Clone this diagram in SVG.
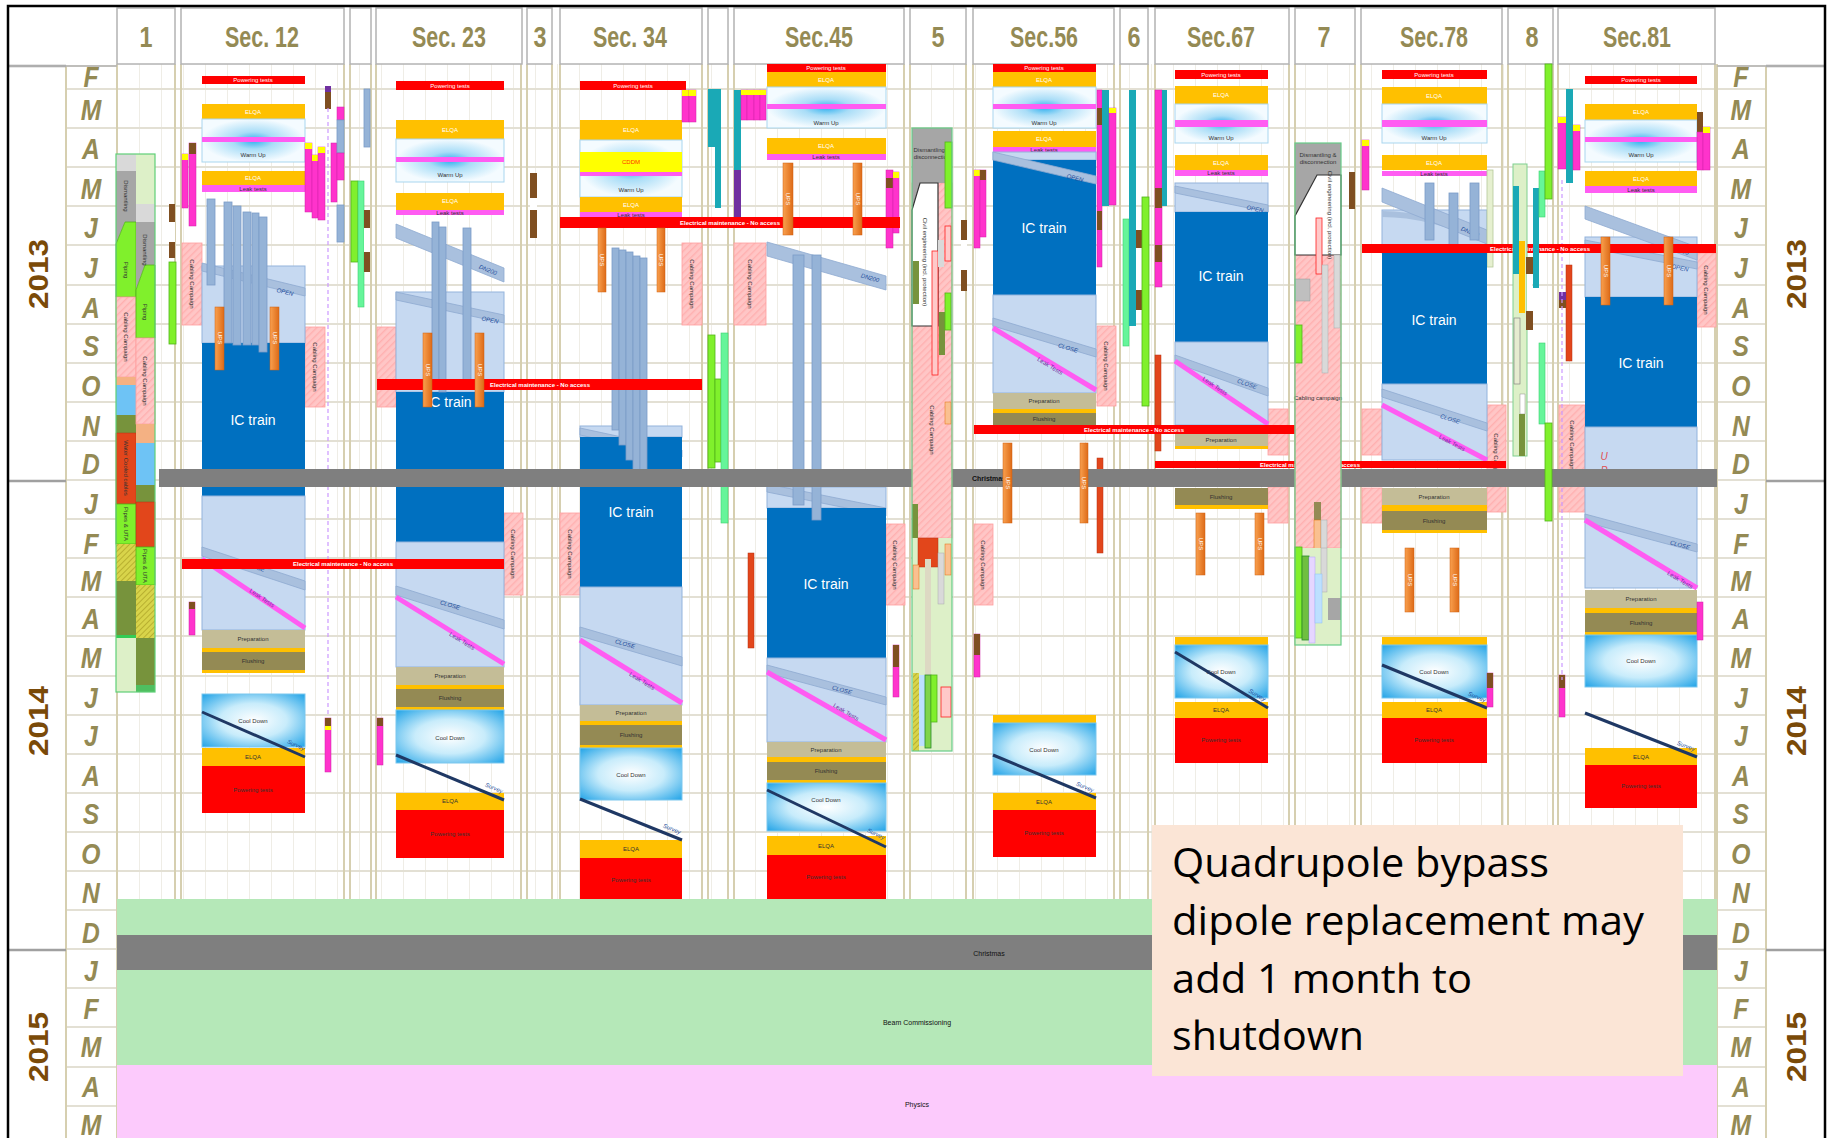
<svg xmlns="http://www.w3.org/2000/svg" width="1829" height="1138" viewBox="0 0 1829 1138">
<defs>
<style>
.pt{fill:#ff0000}.el{fill:#ffc000}.wu{fill:url(#gWU);stroke:#a9d6ef;stroke-width:1}
.mg{fill:#ff5cf2}.ic{fill:#0070c0}.lb{fill:#c6d9f1;stroke:#93b3dc;stroke-width:1}
.pr{fill:#c4bd97}.fl{fill:#948a54}.cd{fill:url(#gCD);stroke:#7cc7ee;stroke-width:1}
.cab{fill:url(#hatch);stroke:#ff9f9f;stroke-width:.8}.ups{fill:url(#gUPS);stroke:#d06010;stroke-width:.5}
.vb{fill:#95b3d7;stroke:#7b9cc7;stroke-width:.8}.db{fill:#a9c0de;stroke:#8eaad0;stroke-width:.8}
.mb{fill:#ff33cc;stroke:#d020a8;stroke-width:.5}.tl{fill:#1aa9b6}.br{fill:#7f4f21}.gr{fill:#80f02c;stroke:#52b41a;stroke-width:.8}
.lg{fill:#66f59a;stroke:#3fcf70;stroke-width:.6}.ol{fill:#77933c}.ow{fill:#e2461b;stroke:#b83010;stroke-width:.5}.ye{fill:#ffff00}
.gy{fill:#a6a6a6}.wh{fill:#ffffff}.pu{fill:#7030a0}
.lkl{stroke:#ff5cf2;stroke-width:5}.sv{stroke:#1f3864;stroke-width:3}
.s{font-family:"Liberation Sans Narrow","Liberation Sans",sans-serif;font-size:6px;text-anchor:middle;dominant-baseline:central}
.w{fill:#ffffff}.k{fill:#333333}.bl{fill:#1f4e9c;font-style:italic}.pk{fill:#7030a0}
.ict{font-family:"Liberation Sans Narrow","Liberation Sans",sans-serif;font-size:14px;fill:#ffffff;text-anchor:middle;dominant-baseline:central}
.hd{font-family:"Liberation Sans Narrow","Liberation Sans",sans-serif;font-weight:bold;font-size:30px;fill:#948a54;text-anchor:middle}
.mo{font-family:"Liberation Sans",sans-serif;font-weight:bold;font-style:italic;font-size:29px;fill:#948a54;text-anchor:middle}
.yr{font-family:"Liberation Sans",sans-serif;font-weight:bold;font-size:28px;fill:#7a4a08;text-anchor:middle}
.hbox{fill:#ffffff;stroke:#b3b3b3;stroke-width:1.5}
.hl{stroke:#e3e0d4;stroke-width:2}.vl{stroke:#d6cfb0;stroke-width:2}
.eb{fill:#ff0000}.et{font-family:"Liberation Sans Narrow","Liberation Sans",sans-serif;font-size:6px;font-weight:bold;fill:#ffffff;text-anchor:middle;dominant-baseline:central}
.note{font-family:"Open Sans","Noto Sans",sans-serif;font-size:41px;fill:#000000}
.bt{font-family:"Liberation Sans Narrow","Liberation Sans",sans-serif;font-size:7px;fill:#111111;text-anchor:middle;dominant-baseline:central}
</style>
<radialGradient id="gWU" cx="50%" cy="50%" r="50%"><stop offset="0" stop-color="#2fb0ee"/><stop offset=".4" stop-color="#a9ddf7"/><stop offset="1" stop-color="#f4fbff"/></radialGradient>
<radialGradient id="gCD" cx="50%" cy="50%" r="72%"><stop offset="0" stop-color="#ffffff"/><stop offset=".45" stop-color="#c8ecfb"/><stop offset="1" stop-color="#1aa0e6"/></radialGradient>
<linearGradient id="gUPS" x1="0" x2="1" y1="0" y2="0"><stop offset="0" stop-color="#f9a04e"/><stop offset="1" stop-color="#dd6b18"/></linearGradient>
<pattern id="hatch" patternUnits="userSpaceOnUse" width="5" height="5" patternTransform="rotate(45)"><rect width="5" height="5" fill="#ffc6c6"/><rect width="1.4" height="5" fill="#ffb0b0"/></pattern>
<pattern id="yhatch" patternUnits="userSpaceOnUse" width="4" height="4" patternTransform="rotate(45)"><rect width="4" height="4" fill="#d8d44a"/><rect width="1" height="4" fill="#b8b030"/></pattern>
<pattern id="fine" patternUnits="userSpaceOnUse" width="22" height="10" x="117"><rect width="22" height="10" fill="#ffffff"/><rect width="1" height="10" fill="#efede6"/></pattern>
</defs>

<rect x="0" y="0" width="1829" height="1138" fill="#ffffff"/>

<g id="grid">
<rect x="117" y="64" width="1600" height="835" fill="url(#fine)"/>
<g class="hl">
<line x1="66" y1="66" x2="117" y2="66"/><line x1="1717" y1="66" x2="1766" y2="66"/>
<line x1="66" y1="89" x2="1766" y2="89"/><line x1="66" y1="128" x2="1766" y2="128"/><line x1="66" y1="167" x2="1766" y2="167"/>
<line x1="66" y1="206" x2="1766" y2="206"/><line x1="66" y1="245" x2="1766" y2="245"/><line x1="66" y1="285" x2="1766" y2="285"/>
<line x1="66" y1="324" x2="1766" y2="324"/><line x1="66" y1="363" x2="1766" y2="363"/><line x1="66" y1="402" x2="1766" y2="402"/>
<line x1="66" y1="441" x2="1766" y2="441"/><line x1="66" y1="480" x2="1766" y2="480"/><line x1="66" y1="519" x2="1766" y2="519"/>
<line x1="66" y1="558" x2="1766" y2="558"/><line x1="66" y1="597" x2="1766" y2="597"/><line x1="66" y1="636" x2="1766" y2="636"/>
<line x1="66" y1="676" x2="1766" y2="676"/><line x1="66" y1="715" x2="1766" y2="715"/><line x1="66" y1="754" x2="1766" y2="754"/>
<line x1="66" y1="793" x2="1766" y2="793"/><line x1="66" y1="832" x2="1766" y2="832"/><line x1="66" y1="871" x2="1766" y2="871"/>
<line x1="66" y1="910" x2="1766" y2="910"/><line x1="66" y1="949" x2="1766" y2="949"/><line x1="66" y1="988" x2="1766" y2="988"/>
<line x1="66" y1="1027" x2="1766" y2="1027"/><line x1="66" y1="1067" x2="1766" y2="1067"/><line x1="66" y1="1106" x2="1766" y2="1106"/>
</g>
<g class="vl">
<line x1="66" y1="66" x2="66" y2="1138"/><line x1="1766" y1="66" x2="1766" y2="1138"/>
<line x1="117" y1="64" x2="117" y2="1138"/><line x1="1717" y1="64" x2="1717" y2="1138"/>
<line x1="175" y1="64" x2="175" y2="899"/><line x1="181" y1="64" x2="181" y2="899"/><line x1="344" y1="64" x2="344" y2="899"/>
<line x1="350" y1="64" x2="350" y2="899"/><line x1="371" y1="64" x2="371" y2="899"/><line x1="376" y1="64" x2="376" y2="899"/>
<line x1="521" y1="64" x2="521" y2="899"/><line x1="527" y1="64" x2="527" y2="899"/><line x1="552" y1="64" x2="552" y2="899"/>
<line x1="560" y1="64" x2="560" y2="899"/><line x1="702" y1="64" x2="702" y2="899"/><line x1="708" y1="64" x2="708" y2="899"/>
<line x1="728" y1="64" x2="728" y2="899"/><line x1="734" y1="64" x2="734" y2="899"/><line x1="904" y1="64" x2="904" y2="899"/>
<line x1="910" y1="64" x2="910" y2="899"/><line x1="966" y1="64" x2="966" y2="899"/><line x1="973" y1="64" x2="973" y2="899"/>
<line x1="1114" y1="64" x2="1114" y2="899"/><line x1="1120" y1="64" x2="1120" y2="899"/><line x1="1148" y1="64" x2="1148" y2="899"/>
<line x1="1155" y1="64" x2="1155" y2="899"/><line x1="1289" y1="64" x2="1289" y2="899"/><line x1="1295" y1="64" x2="1295" y2="899"/>
<line x1="1355" y1="64" x2="1355" y2="899"/><line x1="1361" y1="64" x2="1361" y2="899"/><line x1="1502" y1="64" x2="1502" y2="899"/>
<line x1="1508" y1="64" x2="1508" y2="899"/><line x1="1553" y1="64" x2="1553" y2="899"/><line x1="1558" y1="64" x2="1558" y2="899"/>
<line x1="1715" y1="64" x2="1715" y2="899"/>
</g>
<g stroke="#a0a0a0" stroke-width="2.5">
<line x1="9" y1="481" x2="66" y2="481"/><line x1="1766" y1="481" x2="1826" y2="481"/>
<line x1="9" y1="950" x2="66" y2="950"/><line x1="1766" y1="950" x2="1826" y2="950"/>
<line x1="9" y1="66" x2="66" y2="66"/><line x1="1766" y1="66" x2="1826" y2="66"/>
</g>
</g>

<g id="months">
<g transform="scale(0.85,1)">
<text class="mo" x="107" y="87">F</text><text class="mo" x="107" y="120">M</text><text class="mo" x="107" y="159">A</text>
<text class="mo" x="107" y="199">M</text><text class="mo" x="107" y="238">J</text><text class="mo" x="107" y="278">J</text>
<text class="mo" x="107" y="318">A</text><text class="mo" x="107" y="356">S</text><text class="mo" x="107" y="396">O</text>
<text class="mo" x="107" y="436">N</text><text class="mo" x="107" y="474">D</text><text class="mo" x="107" y="514">J</text>
<text class="mo" x="107" y="554">F</text><text class="mo" x="107" y="591">M</text><text class="mo" x="107" y="629">A</text>
<text class="mo" x="107" y="668">M</text><text class="mo" x="107" y="708">J</text><text class="mo" x="107" y="746">J</text>
<text class="mo" x="107" y="786">A</text><text class="mo" x="107" y="824">S</text><text class="mo" x="107" y="864">O</text>
<text class="mo" x="107" y="903">N</text><text class="mo" x="107" y="943">D</text><text class="mo" x="107" y="981">J</text>
<text class="mo" x="107" y="1019">F</text><text class="mo" x="107" y="1057">M</text><text class="mo" x="107" y="1097">A</text>
<text class="mo" x="107" y="1135">M</text>
<text class="mo" x="2048" y="87">F</text><text class="mo" x="2048" y="120">M</text><text class="mo" x="2048" y="159">A</text>
<text class="mo" x="2048" y="199">M</text><text class="mo" x="2048" y="238">J</text><text class="mo" x="2048" y="278">J</text>
<text class="mo" x="2048" y="318">A</text><text class="mo" x="2048" y="356">S</text><text class="mo" x="2048" y="396">O</text>
<text class="mo" x="2048" y="436">N</text><text class="mo" x="2048" y="474">D</text><text class="mo" x="2048" y="514">J</text>
<text class="mo" x="2048" y="554">F</text><text class="mo" x="2048" y="591">M</text><text class="mo" x="2048" y="629">A</text>
<text class="mo" x="2048" y="668">M</text><text class="mo" x="2048" y="708">J</text><text class="mo" x="2048" y="746">J</text>
<text class="mo" x="2048" y="786">A</text><text class="mo" x="2048" y="824">S</text><text class="mo" x="2048" y="864">O</text>
<text class="mo" x="2048" y="903">N</text><text class="mo" x="2048" y="943">D</text><text class="mo" x="2048" y="981">J</text>
<text class="mo" x="2048" y="1019">F</text><text class="mo" x="2048" y="1057">M</text><text class="mo" x="2048" y="1097">A</text>
<text class="mo" x="2048" y="1135">M</text>
</g>
<text class="yr" transform="translate(48,274) rotate(-90)" textLength="70" lengthAdjust="spacingAndGlyphs">2013</text>
<text class="yr" transform="translate(48,721) rotate(-90)" textLength="70" lengthAdjust="spacingAndGlyphs">2014</text>
<text class="yr" transform="translate(48,1047) rotate(-90)" textLength="70" lengthAdjust="spacingAndGlyphs">2015</text>
<text class="yr" transform="translate(1806,274) rotate(-90)" textLength="70" lengthAdjust="spacingAndGlyphs">2013</text>
<text class="yr" transform="translate(1806,721) rotate(-90)" textLength="70" lengthAdjust="spacingAndGlyphs">2014</text>
<text class="yr" transform="translate(1806,1047) rotate(-90)" textLength="70" lengthAdjust="spacingAndGlyphs">2015</text>
</g>

<g id="header">
<rect class="hbox" x="117" y="8" width="58" height="56"/><text class="hd" x="146" y="47" textLength="13" lengthAdjust="spacingAndGlyphs">1</text>
<rect class="hbox" x="181" y="8" width="163" height="56"/><text class="hd" x="262" y="47" textLength="74" lengthAdjust="spacingAndGlyphs">Sec. 12</text>
<rect class="hbox" x="350" y="8" width="21" height="56"/>
<rect class="hbox" x="376" y="8" width="146" height="56"/><text class="hd" x="449" y="47" textLength="74" lengthAdjust="spacingAndGlyphs">Sec. 23</text>
<rect class="hbox" x="527" y="8" width="25" height="56"/><text class="hd" x="540" y="47" textLength="13" lengthAdjust="spacingAndGlyphs">3</text>
<rect class="hbox" x="560" y="8" width="142" height="56"/><text class="hd" x="630" y="47" textLength="74" lengthAdjust="spacingAndGlyphs">Sec. 34</text>
<rect class="hbox" x="708" y="8" width="20" height="56"/>
<rect class="hbox" x="734" y="8" width="170" height="56"/><text class="hd" x="819" y="47" textLength="68" lengthAdjust="spacingAndGlyphs">Sec.45</text>
<rect class="hbox" x="910" y="8" width="56" height="56"/><text class="hd" x="938" y="47" textLength="13" lengthAdjust="spacingAndGlyphs">5</text>
<rect class="hbox" x="973" y="8" width="141" height="56"/><text class="hd" x="1044" y="47" textLength="68" lengthAdjust="spacingAndGlyphs">Sec.56</text>
<rect class="hbox" x="1120" y="8" width="28" height="56"/><text class="hd" x="1134" y="47" textLength="13" lengthAdjust="spacingAndGlyphs">6</text>
<rect class="hbox" x="1155" y="8" width="134" height="56"/><text class="hd" x="1221" y="47" textLength="68" lengthAdjust="spacingAndGlyphs">Sec.67</text>
<rect class="hbox" x="1295" y="8" width="60" height="56"/><text class="hd" x="1324" y="47" textLength="13" lengthAdjust="spacingAndGlyphs">7</text>
<rect class="hbox" x="1361" y="8" width="141" height="56"/><text class="hd" x="1434" y="47" textLength="68" lengthAdjust="spacingAndGlyphs">Sec.78</text>
<rect class="hbox" x="1508" y="8" width="45" height="56"/><text class="hd" x="1532" y="47" textLength="13" lengthAdjust="spacingAndGlyphs">8</text>
<rect class="hbox" x="1558" y="8" width="157" height="56"/><text class="hd" x="1637" y="47" textLength="68" lengthAdjust="spacingAndGlyphs">Sec.81</text>
<line x1="9" y1="66" x2="117" y2="66" stroke="#b3b3b3" stroke-width="1.5"/>
<line x1="1717" y1="66" x2="1826" y2="66" stroke="#b3b3b3" stroke-width="1.5"/>
</g>

<g id="col1">
<rect x="116" y="154" width="20" height="17" fill="#d9d9d9"/>
<polygon class="gy" points="116,171 136,171 136,222 125,222 116,244"/>
<polygon class="gr" points="116,244 125,222 136,222 136,297 116,297"/>
<rect class="cab" x="116" y="297" width="20" height="80"/>
<rect x="116" y="377" width="20" height="8" fill="#f4b183"/>
<rect x="116" y="385" width="20" height="30" fill="#6ec3f5"/>
<rect class="ol" x="116" y="415" width="20" height="18"/>
<rect class="ow" x="116" y="433" width="20" height="71"/>
<rect class="gr" x="116" y="504" width="20" height="40"/>
<rect x="116" y="544" width="20" height="37" fill="url(#yhatch)"/>
<rect class="ol" x="116" y="581" width="20" height="38"/>
<rect class="ol" x="116" y="619" width="20" height="16"/>
<rect x="116" y="635" width="20" height="3" fill="#33cc55"/>
<rect x="116" y="638" width="20" height="54" fill="#ddf0c8"/>
<rect x="136" y="154" width="19" height="50" fill="#ddf0c8"/>
<rect x="136" y="204" width="19" height="18" fill="#d9d9d9"/>
<polygon class="gy" points="136,222 155,222 155,265 145,265 136,290"/>
<polygon class="gr" points="136,290 145,265 155,265 155,338 136,338"/>
<rect class="cab" x="136" y="338" width="19" height="86"/>
<rect x="136" y="424" width="19" height="19" fill="#f4b183"/>
<rect x="136" y="443" width="19" height="42" fill="#6ec3f5"/>
<rect class="ol" x="136" y="485" width="19" height="17"/>
<rect class="ow" x="136" y="502" width="19" height="45"/>
<rect class="gr" x="136" y="547" width="19" height="38"/>
<rect x="136" y="585" width="19" height="53" fill="url(#yhatch)"/>
<rect class="ol" x="136" y="638" width="19" height="47"/>
<rect x="136" y="685" width="19" height="7" fill="#4fbf60"/>
<rect x="116" y="154" width="39" height="538" fill="none" stroke="#5fcf77" stroke-width="1.2"/>
<g class="s k" font-size="4.5">
<text transform="translate(126,196) rotate(90)">Dismantling</text>
<text transform="translate(126,270) rotate(90)">Piping</text>
<text transform="translate(126,337) rotate(90)">Cabling Campaign</text>
<text transform="translate(126,468) rotate(90)">Water Cooled cables</text>
<text transform="translate(126,524) rotate(90)">Pipes &amp; UTA</text>
<text transform="translate(145,250) rotate(90)">Dismantling</text>
<text transform="translate(145,312) rotate(90)">Piping</text>
<text transform="translate(145,381) rotate(90)">Cabling Campaign</text>
<text transform="translate(145,566) rotate(90)">Pipes &amp; UTA</text>
</g>
<rect class="br" x="169" y="204" width="6" height="54"/><rect class="wh" x="169" y="222" width="6" height="20"/>
<rect class="gr" x="169" y="262" width="7" height="82"/>
</g>

<g id="sec12">
<rect class="cab" x="182" y="243" width="20" height="82"/>
<text class="s k" transform="translate(192,284) rotate(90)" font-size="5">Cabling Campaign</text>
<rect class="cab" x="305" y="327" width="20" height="80"/>
<text class="s k" transform="translate(315,367) rotate(90)" font-size="5">Cabling Campaign</text>
<rect class="pt" x="202" y="76" width="103" height="8"/><text class="s w" x="253" y="80">Powering tests</text>
<rect class="el" x="202" y="104" width="103" height="15"/><text class="s w" x="253" y="112">ELQA</text>
<rect class="wu" x="202" y="119" width="103" height="43"/>
<rect class="mg" x="202" y="137" width="103" height="5"/>
<text class="s k" x="253" y="155">Warm Up</text>
<rect class="el" x="202" y="171" width="103" height="14"/><text class="s w" x="253" y="178">ELQA</text>
<rect class="mg" x="202" y="185" width="103" height="7"/><text class="s k" x="253" y="189">Leak tests</text>
<rect class="lb" x="202" y="266" width="103" height="77"/>
<polygon class="db" points="202,263 305,288 305,296 202,271"/>
<text class="s bl" transform="translate(285,292) rotate(13)">OPEN</text>
<rect class="ic" x="202" y="343" width="103" height="153"/>
<text class="ict" x="253" y="420">IC train</text>
<rect class="vb" x="207" y="199" width="8" height="86"/>
<rect class="vb" x="224" y="202" width="8" height="141"/>
<rect class="vb" x="233" y="206" width="8" height="139"/>
<rect class="vb" x="243" y="212" width="8" height="133"/>
<rect class="vb" x="252" y="213" width="7" height="132"/>
<rect class="vb" x="259" y="217" width="8" height="135"/>
<rect class="lb" x="202" y="496" width="103" height="134"/>
<polygon class="db" points="202,547 305,581 305,590 202,556"/>
<text class="s bl" transform="translate(255,567) rotate(18)">CLOSE</text>
<line class="lkl" x1="202" y1="559" x2="305" y2="628"/>
<text class="s pk" transform="translate(262,598) rotate(34)">Leak Tests</text>
<rect class="pr" x="202" y="630" width="103" height="18"/><text class="s k" x="253" y="639">Preparation</text>
<rect class="el" x="202" y="648" width="103" height="4"/>
<rect class="fl" x="202" y="652" width="103" height="18"/><text class="s k" x="253" y="661">Flushing</text>
<rect class="el" x="202" y="670" width="103" height="3"/>
<rect class="cd" x="202" y="694" width="103" height="53"/><text class="s k" x="253" y="721">Cool Down</text>
<rect class="el" x="202" y="748" width="103" height="18"/><text class="s k" x="253" y="757">ELQA</text>
<rect class="pt" x="202" y="766" width="103" height="47"/><text class="s k" x="253" y="790">Powering tests</text>
<line class="sv" x1="202" y1="712" x2="305" y2="757"/>
<text class="s bl" transform="translate(296,745) rotate(24)" font-size="5">Survey</text>
<rect class="mb" x="182" y="154" width="6" height="54"/><rect class="ye" x="182" y="154" width="6" height="6"/>
<rect class="mb" x="189" y="143" width="7" height="83"/><rect class="br" x="189" y="143" width="7" height="11"/>
<rect class="mb" x="305" y="143" width="7" height="69"/><rect class="ye" x="305" y="143" width="7" height="6"/>
<rect class="mb" x="312" y="155" width="6" height="63"/><rect class="ye" x="312" y="155" width="6" height="6"/>
<rect class="mb" x="318" y="147" width="7" height="73"/><rect class="ye" x="318" y="147" width="7" height="6"/>
<rect class="br" x="325" y="86" width="6" height="23"/><rect class="pu" x="325" y="86" width="6" height="6"/>
<rect class="mb" x="331" y="143" width="6" height="59"/>
<rect class="mb" x="337" y="107" width="7" height="13"/>
<rect class="vb" x="337" y="120" width="7" height="33"/>
<rect class="mb" x="337" y="153" width="7" height="27"/>
<rect class="vb" x="337" y="205" width="7" height="37"/>
<line x1="328" y1="108" x2="328" y2="717" stroke="#cc99ff" stroke-width="1.2" stroke-dasharray="4,3"/>
<rect class="mb" x="189" y="602" width="6" height="33"/><rect class="br" x="189" y="602" width="6" height="7"/>
<rect class="mb" x="325" y="718" width="6" height="54"/><rect class="br" x="325" y="718" width="6" height="8"/><rect class="ye" x="325" y="726" width="6" height="4"/>
<rect class="mb" x="377" y="718" width="6" height="47"/><rect class="br" x="377" y="718" width="6" height="8"/>
</g>

<g id="n1">
<rect class="vb" x="364" y="89" width="6" height="58"/>
<rect class="gr" x="351" y="181" width="7" height="81"/>
<rect class="lg" x="358" y="181" width="6" height="126"/>
<rect class="br" x="364" y="210" width="6" height="62"/><rect class="wh" x="364" y="228" width="6" height="24"/>
</g>

<g id="sec23">
<rect class="cab" x="377" y="327" width="19" height="80"/>
<rect class="cab" x="504" y="513" width="19" height="82"/>
<text class="s k" transform="translate(513,554) rotate(90)" font-size="5">Cabling Campaign</text>
<rect class="pt" x="396" y="81" width="108" height="9"/><text class="s w" x="450" y="85.5">Powering tests</text>
<rect class="el" x="396" y="120" width="108" height="19"/><text class="s w" x="450" y="130">ELQA</text>
<rect class="wu" x="396" y="139" width="108" height="43"/>
<rect class="mg" x="396" y="157" width="108" height="5"/>
<text class="s k" x="450" y="175">Warm Up</text>
<rect class="el" x="396" y="193" width="108" height="17"/><text class="s w" x="450" y="201">ELQA</text>
<rect class="mg" x="396" y="210" width="108" height="5"/><text class="s k" x="450" y="212.5" font-size="5">Leak tests</text>
<polygon class="db" points="396,224 504,268 504,282 396,238"/>
<text class="s bl" transform="translate(488,270) rotate(22)">DN200</text>
<rect class="lb" x="396" y="292" width="108" height="100"/>
<polygon class="db" points="396,292 504,315 504,323 396,300"/>
<text class="s bl" transform="translate(490,320) rotate(12)">OPEN</text>
<rect class="ic" x="396" y="392" width="108" height="150"/>
<text class="ict" x="449" y="402">IC train</text>
<rect class="vb" x="432" y="222" width="7" height="163"/>
<rect class="vb" x="439" y="227" width="7" height="165"/>
<rect class="vb" x="463" y="228" width="8" height="152"/>
<rect class="lb" x="396" y="542" width="108" height="125"/>
<polygon class="db" points="396,586 504,620 504,629 396,595"/>
<text class="s bl" transform="translate(450,605) rotate(17)">CLOSE</text>
<line class="lkl" x1="396" y1="597" x2="504" y2="664"/>
<text class="s pk" transform="translate(462,641) rotate(32)">Leak Tests</text>
<rect class="pr" x="396" y="667" width="108" height="18"/><text class="s k" x="450" y="676">Preparation</text>
<rect class="el" x="396" y="685" width="108" height="4"/>
<rect class="fl" x="396" y="689" width="108" height="18"/><text class="s k" x="450" y="698">Flushing</text>
<rect class="el" x="396" y="707" width="108" height="3"/>
<rect class="cd" x="396" y="710" width="108" height="53"/><text class="s k" x="450" y="738">Cool Down</text>
<rect class="el" x="396" y="793" width="108" height="17"/><text class="s k" x="450" y="801">ELQA</text>
<rect class="pt" x="396" y="810" width="108" height="48"/><text class="s k" x="450" y="834">Powering tests</text>
<line class="sv" x1="396" y1="755" x2="504" y2="800"/>
<text class="s bl" transform="translate(494,788) rotate(23)" font-size="5">Survey</text>
</g>

<g id="c3">
<rect class="br" x="530" y="173" width="7" height="65"/><rect class="wh" x="530" y="198" width="7" height="12"/>
</g>

<g id="sec34">
<rect class="cab" x="682" y="243" width="20" height="82"/>
<text class="s k" transform="translate(692,284) rotate(90)" font-size="5">Cabling Campaign</text>
<rect class="cab" x="560" y="513" width="20" height="82"/>
<text class="s k" transform="translate(570,554) rotate(90)" font-size="5">Cabling Campaign</text>
<rect class="pt" x="580" y="81" width="106" height="9"/><text class="s w" x="633" y="85.5">Powering tests</text>
<rect class="el" x="580" y="120" width="102" height="20"/><text class="s w" x="631" y="130">ELQA</text>
<rect class="wu" x="580" y="140" width="102" height="57"/>
<rect class="ye" x="580" y="152" width="102" height="20"/><text class="s" x="631" y="162" fill="#ff3300">CDDM</text>
<rect class="mg" x="580" y="172" width="102" height="4"/>
<text class="s k" x="631" y="190">Warm Up</text>
<rect class="el" x="580" y="197" width="102" height="15"/><text class="s w" x="631" y="204.5">ELQA</text>
<rect class="mg" x="580" y="212" width="102" height="5"/><text class="s k" x="631" y="214.5" font-size="5">Leak tests</text>
<rect class="mb" x="682" y="90" width="7" height="32"/><rect class="ye" x="682" y="90" width="7" height="6"/>
<rect class="mb" x="689" y="90" width="7" height="32"/><rect class="ye" x="689" y="90" width="7" height="6"/>
<rect class="lb" x="580" y="426" width="102" height="11"/>
<polygon class="db" points="580,428 682,450 682,457 580,435"/>
<rect class="ic" x="580" y="437" width="102" height="150"/>
<text class="ict" x="631" y="512">IC train</text>
<rect class="vb" x="612" y="248" width="7" height="182"/>
<rect class="vb" x="619" y="250" width="7" height="195"/>
<rect class="vb" x="626" y="252" width="7" height="208"/>
<rect class="vb" x="633" y="256" width="7" height="215"/>
<rect class="vb" x="640" y="258" width="7" height="226"/>
<rect class="lb" x="580" y="587" width="102" height="118"/>
<polygon class="db" points="580,627 682,657 682,666 580,636"/>
<text class="s bl" transform="translate(625,644) rotate(16)">CLOSE</text>
<line class="lkl" x1="580" y1="640" x2="682" y2="703"/>
<text class="s pk" transform="translate(642,681) rotate(32)">Leak Tests</text>
<rect class="pr" x="580" y="705" width="102" height="16"/><text class="s k" x="631" y="713">Preparation</text>
<rect class="el" x="580" y="721" width="102" height="4"/>
<rect class="fl" x="580" y="725" width="102" height="20"/><text class="s k" x="631" y="735">Flushing</text>
<rect class="el" x="580" y="745" width="102" height="3"/>
<rect class="cd" x="580" y="748" width="102" height="52"/><text class="s k" x="631" y="775">Cool Down</text>
<rect class="el" x="580" y="840" width="102" height="18"/><text class="s k" x="631" y="849">ELQA</text>
<rect class="pt" x="580" y="858" width="102" height="41"/><text class="s k" x="631" y="880">Powering tests</text>
<line class="sv" x1="580" y1="799" x2="682" y2="840"/>
<text class="s bl" transform="translate(672,829) rotate(22)" font-size="5">Survey</text>
</g>

<g id="n2">
<rect class="tl" x="708" y="89" width="7" height="58"/>
<rect class="tl" x="715" y="89" width="6" height="119"/>
<rect class="gr" x="708" y="335" width="7" height="133"/>
<rect class="gr" x="715" y="379" width="6" height="83"/>
<rect class="lg" x="721" y="333" width="7" height="190"/>
</g>

<g id="sec45">
<rect class="cab" x="734" y="243" width="32" height="82"/>
<text class="s k" transform="translate(750,284) rotate(90)" font-size="5">Cabling Campaign</text>
<rect class="cab" x="886" y="524" width="19" height="81"/>
<text class="s k" transform="translate(895,565) rotate(90)" font-size="5">Cabling Campaign</text>
<rect class="pt" x="767" y="64" width="119" height="8"/><text class="s w" x="826" y="68">Powering tests</text>
<rect class="el" x="767" y="72" width="119" height="15"/><text class="s w" x="826" y="80">ELQA</text>
<rect class="wu" x="767" y="87" width="119" height="41"/>
<rect class="mg" x="767" y="104" width="119" height="5"/>
<text class="s k" x="826" y="123">Warm Up</text>
<rect class="el" x="767" y="138" width="119" height="16"/><text class="s w" x="826" y="146">ELQA</text>
<rect class="mg" x="767" y="154" width="119" height="6"/><text class="s k" x="826" y="157" font-size="5">Leak tests</text>
<rect class="tl" x="734" y="90" width="7" height="80"/>
<rect class="pu" x="734" y="170" width="7" height="47"/>
<rect class="mb" x="741" y="90" width="6" height="30"/><rect class="mb" x="747" y="90" width="7" height="30"/>
<rect class="mb" x="754" y="90" width="6" height="30"/><rect class="mb" x="760" y="90" width="6" height="30"/>
<rect class="ye" x="741" y="90" width="25" height="5"/>
<rect class="mb" x="886" y="170" width="7" height="78"/><rect class="br" x="886" y="178" width="7" height="10"/>
<rect class="mb" x="893" y="172" width="6" height="61"/><rect class="ye" x="893" y="172" width="6" height="6"/>
<polygon class="db" points="767,242 886,276 886,290 767,256"/>
<text class="s bl" transform="translate(870,278) rotate(16)">DN200</text>
<rect class="lb" x="767" y="487" width="119" height="21"/>
<polygon class="db" points="767,484 886,508 886,516 767,492"/>
<text class="s bl" transform="translate(870,514) rotate(11)">OPEN</text>
<rect class="ic" x="767" y="508" width="119" height="150"/>
<text class="ict" x="826" y="584">IC train</text>
<rect class="vb" x="793" y="255" width="11" height="250"/>
<rect class="vb" x="812" y="255" width="9" height="265"/>
<rect class="lb" x="767" y="658" width="119" height="84"/>
<polygon class="db" points="767,665 886,697 886,705 767,673"/>
<text class="s bl" transform="translate(842,690) rotate(15)">CLOSE</text>
<line class="lkl" x1="767" y1="672" x2="886" y2="740"/>
<text class="s pk" transform="translate(846,712) rotate(30)">Leak Tests</text>
<rect class="pr" x="767" y="742" width="119" height="15"/><text class="s k" x="826" y="749.5">Preparation</text>
<rect class="el" x="767" y="757" width="119" height="5"/>
<rect class="fl" x="767" y="762" width="119" height="18"/><text class="s k" x="826" y="771">Flushing</text>
<rect class="el" x="767" y="780" width="119" height="3"/>
<rect class="cd" x="767" y="783" width="119" height="48"/><text class="s k" x="826" y="800">Cool Down</text>
<rect class="el" x="767" y="836" width="119" height="19"/><text class="s k" x="826" y="845.5">ELQA</text>
<rect class="pt" x="767" y="855" width="119" height="44"/><text class="s k" x="826" y="877">Powering tests</text>
<line class="sv" x1="767" y1="790" x2="886" y2="847"/>
<text class="s bl" transform="translate(876,834) rotate(25)" font-size="5">Survey</text>
<rect class="ow" x="748" y="553" width="6" height="95"/>
<rect class="mb" x="893" y="645" width="6" height="52"/><rect class="br" x="893" y="645" width="6" height="22"/>
</g>

<g id="sec56">
<rect class="cab" x="974" y="524" width="19" height="81"/>
<text class="s k" transform="translate(983,565) rotate(90)" font-size="5">Cabling Campaign</text>
<rect class="cab" x="1097" y="326" width="19" height="80"/>
<text class="s k" transform="translate(1106,366) rotate(90)" font-size="5">Cabling Campaign</text>
<rect class="pt" x="993" y="64" width="103" height="8"/><text class="s w" x="1044" y="68">Powering tests</text>
<rect class="el" x="993" y="72" width="103" height="15"/><text class="s w" x="1044" y="80">ELQA</text>
<rect class="wu" x="993" y="87" width="103" height="41"/>
<rect class="mg" x="993" y="104" width="103" height="5"/>
<text class="s k" x="1044" y="123">Warm Up</text>
<rect class="el" x="993" y="131" width="103" height="16"/><text class="s w" x="1044" y="139">ELQA</text>
<rect class="mg" x="993" y="147" width="103" height="5"/><text class="s k" x="1044" y="149.5" font-size="5">Leak tests</text>
<rect class="lb" x="993" y="152" width="103" height="8"/>
<rect class="ic" x="993" y="160" width="103" height="135"/>
<polygon class="db" points="993,152 1096,176 1096,184 993,160"/>
<text class="s bl" transform="translate(1075,178) rotate(13)">OPEN</text>
<text class="ict" x="1044" y="228">IC train</text>
<rect class="lb" x="993" y="295" width="103" height="98"/>
<polygon class="db" points="993,318 1096,349 1096,357 993,326"/>
<text class="s bl" transform="translate(1068,348) rotate(17)">CLOSE</text>
<line class="lkl" x1="993" y1="328" x2="1096" y2="390"/>
<text class="s pk" transform="translate(1050,366) rotate(31)">Leak Tests</text>
<rect class="pr" x="993" y="393" width="103" height="16"/><text class="s k" x="1044" y="401">Preparation</text>
<rect class="el" x="993" y="409" width="103" height="4"/>
<rect class="fl" x="993" y="413" width="103" height="12"/><text class="s k" x="1044" y="419">Flushing</text>
<rect class="el" x="993" y="715" width="103" height="8"/>
<rect class="cd" x="993" y="723" width="103" height="52"/><text class="s k" x="1044" y="750">Cool Down</text>
<rect class="el" x="993" y="793" width="103" height="17"/><text class="s k" x="1044" y="801.5">ELQA</text>
<rect class="pt" x="993" y="810" width="103" height="47"/><text class="s k" x="1044" y="833">Powering tests</text>
<line class="sv" x1="993" y1="755" x2="1096" y2="798"/>
<text class="s bl" transform="translate(1085,787) rotate(23)" font-size="5">Survey</text>
<rect class="mb" x="974" y="170" width="6" height="78"/><rect class="ye" x="974" y="170" width="6" height="6"/>
<rect class="mb" x="980" y="170" width="6" height="67"/><rect class="br" x="980" y="170" width="6" height="10"/>
<rect class="mb" x="974" y="634" width="6" height="43"/><rect class="br" x="974" y="634" width="6" height="21"/>
<rect class="mb" x="1097" y="90" width="5" height="177"/><rect class="br" x="1097" y="108" width="5" height="17"/><rect class="br" x="1097" y="211" width="5" height="19"/>
<rect class="tl" x="1102" y="90" width="7" height="116"/>
<rect class="mb" x="1109" y="108" width="7" height="97"/><rect class="ye" x="1109" y="108" width="7" height="5"/>
<rect class="ow" x="1097" y="458" width="6" height="95"/>
</g>

<g id="c6">
<rect class="lg" x="1123" y="219" width="6" height="127"/>
<rect class="tl" x="1129" y="90" width="7" height="236"/>
<rect class="br" x="1136" y="230" width="6" height="80"/><rect class="wh" x="1136" y="248" width="6" height="42"/>
<rect class="gr" x="1142" y="197" width="7" height="209"/>
</g>

<g id="sec67">
<rect class="cab" x="1268" y="409" width="20" height="46"/>
<rect class="cab" x="1268" y="487" width="20" height="36"/>
<rect class="pt" x="1175" y="70" width="93" height="9"/><text class="s w" x="1221" y="74.5">Powering tests</text>
<rect class="el" x="1175" y="86" width="93" height="18"/><text class="s w" x="1221" y="95">ELQA</text>
<rect class="wu" x="1175" y="104" width="93" height="39"/>
<rect class="mg" x="1175" y="120" width="93" height="7"/>
<text class="s k" x="1221" y="138">Warm Up</text>
<rect class="el" x="1175" y="155" width="93" height="15"/><text class="s w" x="1221" y="162.5">ELQA</text>
<rect class="mg" x="1175" y="170" width="93" height="6"/><text class="s k" x="1221" y="173" font-size="5">Leak tests</text>
<rect class="lb" x="1175" y="183" width="93" height="29"/>
<polygon class="db" points="1175,186 1268,205 1268,212 1175,193"/>
<text class="s bl" transform="translate(1255,209) rotate(11)">OPEN</text>
<rect class="ic" x="1175" y="212" width="93" height="130"/>
<text class="ict" x="1221" y="276">IC train</text>
<rect class="lb" x="1175" y="342" width="93" height="83"/>
<polygon class="db" points="1175,355 1268,388 1268,396 1175,363"/>
<text class="s bl" transform="translate(1247,384) rotate(19)">CLOSE</text>
<line class="lkl" x1="1175" y1="361" x2="1268" y2="424"/>
<text class="s pk" transform="translate(1215,386) rotate(34)">Leak Tests</text>
<rect class="pr" x="1175" y="434" width="93" height="12"/><text class="s k" x="1221" y="440">Preparation</text>
<rect class="el" x="1175" y="446" width="93" height="3"/>
<rect class="fl" x="1175" y="488" width="93" height="17"/><text class="s k" x="1221" y="496.5">Flushing</text>
<rect class="el" x="1175" y="505" width="93" height="4"/>
<rect class="el" x="1175" y="637" width="93" height="8"/>
<rect class="cd" x="1175" y="645" width="93" height="53"/><text class="s k" x="1221" y="672">Cool Down</text>
<rect class="el" x="1175" y="702" width="93" height="16"/><text class="s k" x="1221" y="710">ELQA</text>
<rect class="pt" x="1175" y="718" width="93" height="45"/><text class="s k" x="1221" y="740">Powering tests</text>
<line class="sv" x1="1175" y1="652" x2="1268" y2="708"/>
<text class="s bl" transform="translate(1257,695) rotate(30)" font-size="5">Survey</text>
<rect class="mb" x="1155" y="90" width="7" height="197"/><rect class="br" x="1155" y="188" width="7" height="20"/><rect class="br" x="1155" y="245" width="7" height="17"/>
<rect class="tl" x="1162" y="90" width="5" height="116"/>
<rect class="ow" x="1155" y="355" width="6" height="96"/>
</g>

<g id="sec78">
<rect class="cab" x="1362" y="409" width="20" height="46"/>
<rect class="cab" x="1362" y="488" width="20" height="35"/>
<rect class="cab" x="1487" y="405" width="19" height="107"/>
<text class="s k" transform="translate(1496,458) rotate(90)" font-size="5">Cabling Campaign</text>
<rect class="pt" x="1382" y="70" width="105" height="9"/><text class="s w" x="1434" y="74.5">Powering tests</text>
<rect class="el" x="1382" y="87" width="105" height="17"/><text class="s w" x="1434" y="95.5">ELQA</text>
<rect class="wu" x="1382" y="104" width="105" height="39"/>
<rect class="mg" x="1382" y="120" width="105" height="7"/>
<text class="s k" x="1434" y="138">Warm Up</text>
<rect class="el" x="1382" y="155" width="105" height="15"/><text class="s w" x="1434" y="162.5">ELQA</text>
<rect class="mg" x="1382" y="171" width="105" height="5"/><text class="s k" x="1434" y="173.5" font-size="5">Leak tests</text>
<rect class="mb" x="1362" y="140" width="7" height="50"/><rect class="ye" x="1362" y="140" width="7" height="6"/>
<rect class="lb" x="1382" y="210" width="105" height="43"/>
<path d="M1382,214 Q1430,214 1487,240" fill="none" stroke="#a9c0de" stroke-width="6"/>
<polygon class="db" points="1382,188 1487,230 1487,244 1382,202"/>
<text class="s bl" transform="translate(1470,232) rotate(22)">DN200</text>
<rect class="vb" x="1425" y="183" width="9" height="57"/>
<rect class="vb" x="1449" y="193" width="9" height="62"/>
<rect class="vb" x="1470" y="183" width="9" height="57"/>
<rect x="1487" y="170" width="6" height="97" fill="#e6f0d0" stroke="#b5c99a" stroke-width=".8"/>
<rect class="ic" x="1382" y="253" width="105" height="131"/>
<text class="ict" x="1434" y="320">IC train</text>
<rect class="lb" x="1382" y="384" width="105" height="76"/>
<polygon class="db" points="1382,389 1487,423 1487,431 1382,397"/>
<text class="s bl" transform="translate(1450,419) rotate(18)">CLOSE</text>
<line class="lkl" x1="1382" y1="405" x2="1487" y2="460"/>
<text class="s pk" transform="translate(1452,443) rotate(28)">Leak Tests</text>
<rect class="pr" x="1382" y="488" width="105" height="17"/><text class="s k" x="1434" y="496.5">Preparation</text>
<rect class="el" x="1382" y="505" width="105" height="6"/>
<rect class="fl" x="1382" y="511" width="105" height="19"/><text class="s k" x="1434" y="520.5">Flushing</text>
<rect class="el" x="1382" y="530" width="105" height="3"/>
<rect class="el" x="1382" y="637" width="105" height="8"/>
<rect class="cd" x="1382" y="645" width="105" height="53"/><text class="s k" x="1434" y="672">Cool Down</text>
<rect class="el" x="1382" y="702" width="105" height="16"/><text class="s k" x="1434" y="710">ELQA</text>
<rect class="pt" x="1382" y="718" width="105" height="45"/><text class="s k" x="1434" y="740">Powering tests</text>
<line class="sv" x1="1382" y1="665" x2="1487" y2="708"/>
<text class="s bl" transform="translate(1477,697) rotate(22)" font-size="5">Survey</text>
<rect class="mb" x="1487" y="673" width="6" height="34"/><rect class="br" x="1487" y="673" width="6" height="15"/>
</g>

<g id="sec81">
<rect class="cab" x="1697" y="253" width="19" height="74"/>
<text class="s k" transform="translate(1706,290) rotate(90)" font-size="5">Cabling Campaign</text>
<rect class="cab" x="1559" y="405" width="26" height="107"/>
<text class="s k" transform="translate(1572,445) rotate(90)" font-size="5">Cabling Campaign</text>
<rect class="pt" x="1585" y="76" width="112" height="8"/><text class="s w" x="1641" y="80">Powering tests</text>
<rect class="el" x="1585" y="104" width="112" height="16"/><text class="s w" x="1641" y="112">ELQA</text>
<rect class="wu" x="1585" y="120" width="112" height="42"/>
<rect class="mg" x="1585" y="137" width="112" height="5"/>
<text class="s k" x="1641" y="155">Warm Up</text>
<rect class="el" x="1585" y="171" width="112" height="15"/><text class="s w" x="1641" y="178.5">ELQA</text>
<rect class="mg" x="1585" y="186" width="112" height="7"/><text class="s k" x="1641" y="189.5" font-size="5">Leak tests</text>
<rect class="mb" x="1558" y="117" width="8" height="52"/><rect class="ye" x="1558" y="117" width="8" height="6"/>
<rect class="tl" x="1566" y="89" width="7" height="94"/>
<rect class="mb" x="1573" y="125" width="7" height="45"/><rect class="ye" x="1573" y="125" width="7" height="6"/>
<rect class="br" x="1697" y="112" width="6" height="20"/>
<rect class="mb" x="1697" y="132" width="6" height="38"/>
<rect class="mb" x="1703" y="127" width="7" height="43"/><rect class="ye" x="1703" y="127" width="7" height="6"/>
<rect class="lb" x="1585" y="237" width="112" height="60"/>
<polygon class="db" points="1585,240 1697,262 1697,269 1585,247"/>
<polygon class="db" points="1585,206 1697,247 1697,260 1585,219"/>
<text class="s bl" transform="translate(1680,250) rotate(20)">DN200</text>
<text class="s bl" transform="translate(1680,268) rotate(11)">OPEN</text>
<rect class="ic" x="1585" y="297" width="112" height="130"/>
<text class="ict" x="1641" y="363">IC train</text>
<rect class="lb" x="1585" y="427" width="112" height="161"/>
<text x="1604" y="460" font-family="Liberation Sans,sans-serif" font-size="10" font-style="italic" fill="#e05050" text-anchor="middle">U</text>
<text x="1604" y="474" font-family="Liberation Sans,sans-serif" font-size="10" font-style="italic" fill="#e05050" text-anchor="middle">P</text>
<polygon class="db" points="1585,514 1697,544 1697,552 1585,522"/>
<text class="s bl" transform="translate(1680,545) rotate(15)">CLOSE</text>
<line class="lkl" x1="1585" y1="520" x2="1697" y2="588"/>
<text class="s pk" transform="translate(1680,580) rotate(31)">Leak Tests</text>
<rect class="pr" x="1585" y="590" width="112" height="18"/><text class="s k" x="1641" y="599">Preparation</text>
<rect class="el" x="1585" y="608" width="112" height="5"/>
<rect class="fl" x="1585" y="613" width="112" height="19"/><text class="s k" x="1641" y="622.5">Flushing</text>
<rect class="el" x="1585" y="632" width="112" height="3"/>
<rect class="cd" x="1585" y="635" width="112" height="52"/><text class="s k" x="1641" y="661">Cool Down</text>
<rect class="el" x="1585" y="748" width="112" height="17"/><text class="s k" x="1641" y="756.5">ELQA</text>
<rect class="pt" x="1585" y="765" width="112" height="43"/><text class="s k" x="1641" y="786">Powering tests</text>
<line class="sv" x1="1585" y1="713" x2="1697" y2="757"/>
<text class="s bl" transform="translate(1686,746) rotate(21)" font-size="5">Survey</text>
<rect class="mb" x="1697" y="602" width="6" height="38"/>
<rect class="mb" x="1559" y="675" width="6" height="42"/><rect class="br" x="1559" y="675" width="6" height="13"/>
<rect class="ow" x="1566" y="265" width="6" height="96"/>
<rect class="pu" x="1559" y="292" width="7" height="8"/><rect class="br" x="1559" y="300" width="7" height="8"/>
<line x1="1562" y1="180" x2="1562" y2="680" stroke="#cc99ff" stroke-width="1.2" stroke-dasharray="4,3"/>
</g>

<g id="christmas2013">
<rect x="159" y="469" width="1558" height="18" fill="#7f7f7f"/>
<text class="bt" x="989" y="478" font-weight="bold">Christmas</text>
</g>

<g id="electrical">
<rect class="eb" x="182" y="559" width="322" height="10"/><text class="et" x="343" y="564">Electrical maintenance - No access</text>
<rect class="eb" x="377" y="379" width="325" height="11"/><text class="et" x="540" y="384.5">Electrical maintenance - No access</text>
<rect class="eb" x="560" y="217" width="340" height="11"/><text class="et" x="730" y="222.5">Electrical maintenance - No access</text>
<rect class="eb" x="974" y="425" width="321" height="9"/><text class="et" x="1134" y="429.5">Electrical maintenance - No access</text>
<rect class="eb" x="1155" y="461" width="351" height="7"/><text class="et" x="1310" y="464.5">Electrical maintenance - No access</text>
<rect class="eb" x="1362" y="244" width="354" height="9"/><text class="et" x="1540" y="248.5">Electrical maintenance - No access</text>
</g>

<g id="ups">
<rect class="ups" x="215" y="307" width="9" height="63"/><rect class="ups" x="270" y="307" width="9" height="63"/>
<rect class="ups" x="423" y="333" width="9" height="74"/><rect class="ups" x="475" y="333" width="9" height="74"/>
<rect class="ups" x="598" y="228" width="8" height="64"/><rect class="ups" x="657" y="228" width="8" height="64"/>
<rect class="ups" x="783" y="163" width="10" height="72"/><rect class="ups" x="853" y="163" width="9" height="72"/>
<rect class="ups" x="1003" y="443" width="9" height="80"/><rect class="ups" x="1080" y="443" width="8" height="80"/>
<rect class="ups" x="1196" y="513" width="9" height="62"/><rect class="ups" x="1255" y="513" width="9" height="62"/>
<rect class="ups" x="1405" y="548" width="9" height="64"/><rect class="ups" x="1450" y="548" width="9" height="64"/>
<rect class="ups" x="1601" y="237" width="9" height="68"/><rect class="ups" x="1664" y="237" width="9" height="68"/>
<g class="s w" font-size="5">
<text transform="translate(219.5,338) rotate(90)">UPS</text><text transform="translate(274.5,338) rotate(90)">UPS</text>
<text transform="translate(427.5,370) rotate(90)">UPS</text><text transform="translate(479.5,370) rotate(90)">UPS</text>
<text transform="translate(602,260) rotate(90)">UPS</text><text transform="translate(661,260) rotate(90)">UPS</text>
<text transform="translate(788,199) rotate(90)">UPS</text><text transform="translate(857.5,199) rotate(90)">UPS</text>
<text transform="translate(1007.5,483) rotate(90)">UPS</text><text transform="translate(1084,483) rotate(90)">UPS</text>
<text transform="translate(1200.5,544) rotate(90)">UPS</text><text transform="translate(1259.5,544) rotate(90)">UPS</text>
<text transform="translate(1409.5,580) rotate(90)">UPS</text><text transform="translate(1454.5,580) rotate(90)">UPS</text>
<text transform="translate(1605.5,271) rotate(90)">UPS</text><text transform="translate(1668.5,271) rotate(90)">UPS</text>
</g>
</g>

<g id="col5">
<rect class="cab" x="912" y="183" width="40" height="355"/>
<rect class="gy" x="912" y="128" width="40" height="55"/>
<text class="s k" x="932" y="150" font-size="5">Dismantling &amp;</text><text class="s k" x="932" y="157" font-size="5">disconnection</text>
<polygon class="gy" points="912,183 920,183 912,210"/>
<polygon points="920,183 938,183 938,326 912,326 912,210" fill="#ffffff" stroke="#333333" stroke-width="1.2"/>
<text class="s k" transform="translate(925,262) rotate(90)" font-size="4.5">Civil engineering (incl. protection)</text>
<rect class="gr" x="945" y="142" width="7" height="66"/>
<rect class="ol" x="913" y="261" width="6" height="43"/>
<rect x="932" y="251" width="6" height="124" fill="#ffc9c9" stroke="#ff2020" stroke-width=".8"/>
<rect x="938" y="240" width="6" height="27" fill="#d9d9d9"/>
<rect x="945" y="226" width="6" height="35" fill="#ffc9c9" stroke="#ff2020" stroke-width=".8"/>
<rect class="ol" x="939" y="312" width="6" height="43"/>
<rect class="gr" x="945" y="293" width="6" height="37"/>
<rect x="945" y="402" width="6" height="22" fill="#fac090" stroke="#e46c0a" stroke-width=".5"/>
<text class="s k" transform="translate(932,430) rotate(90)" font-size="5">Cabling Campaign</text>
<rect class="ol" x="912" y="504" width="6" height="40"/>
<rect x="912" y="538" width="40" height="213" fill="#ddf0c8"/>
<rect class="ow" x="918" y="538" width="20" height="29"/>
<rect x="945" y="544" width="6" height="31" fill="#fac090" stroke="#e46c0a" stroke-width=".5"/>
<rect x="938" y="553" width="6" height="51" fill="#d9d9d9" stroke="#aaaaaa" stroke-width=".5"/>
<rect x="925" y="559" width="6" height="161" fill="#ddd9c3"/>
<rect x="913" y="565" width="6" height="24" fill="#fac090" stroke="#e46c0a" stroke-width=".5"/>
<rect x="913" y="673" width="6" height="78" fill="url(#yhatch)"/>
<rect x="919" y="675" width="6" height="71" fill="#bde0ff"/>
<rect x="925" y="675" width="6" height="73" fill="#7fd44a" stroke="#2a8a2a" stroke-width=".8"/>
<rect class="gr" x="931" y="675" width="6" height="47"/>
<rect x="941" y="687" width="10" height="30" fill="#ffc9c9" stroke="#ff2020" stroke-width=".8"/>
<rect x="912" y="128" width="40" height="623" fill="none" stroke="#66cc88" stroke-width="1.2"/>
<rect class="br" x="961" y="220" width="6" height="71"/><rect class="wh" x="961" y="240" width="6" height="30"/>
</g>

<g id="col7">
<rect class="cab" x="1295" y="255" width="46" height="293"/>
<rect class="gy" x="1295" y="143" width="46" height="32"/>
<text class="s k" x="1318" y="155" font-size="5">Dismantling &amp;</text><text class="s k" x="1318" y="162" font-size="5">disconnection</text>
<polygon class="gy" points="1295,175 1317,175 1295,216"/>
<polygon points="1317,175 1341,175 1341,255 1295,255 1295,216" fill="#ffffff" stroke="#333333" stroke-width="1.2"/>
<text class="s k" transform="translate(1330,215) rotate(90)" font-size="4.5">Civil engineering (incl. protection)</text>
<rect x="1316" y="218" width="6" height="56" fill="#ffc9c9" stroke="#ff2020" stroke-width=".8"/>
<rect x="1322" y="265" width="6" height="108" fill="#d9d9d9" stroke="#aaaaaa" stroke-width=".5"/>
<rect x="1334" y="255" width="6" height="73" fill="#d9d9d9" stroke="#aaaaaa" stroke-width=".5"/>
<rect x="1295" y="279" width="15" height="22" fill="#bfbfbf" stroke="#999999" stroke-width=".5"/>
<rect class="gr" x="1295" y="325" width="7" height="38"/>
<text class="s k" x="1318" y="398" font-size="5">Cabling campaign</text>
<rect class="fl" x="1314" y="502" width="7" height="34"/>
<rect x="1314" y="520" width="7" height="29" fill="#fac090" stroke="#e46c0a" stroke-width=".5"/>
<rect x="1321" y="520" width="6" height="72" fill="#d9d9d9" stroke="#aaaaaa" stroke-width=".5"/>
<rect x="1295" y="548" width="46" height="97" fill="#ddf0c8"/>
<rect x="1321" y="548" width="6" height="44" fill="#d9d9d9" stroke="#aaaaaa" stroke-width=".5"/>
<rect class="gr" x="1295" y="547" width="7" height="91"/>
<rect x="1302" y="556" width="7" height="84" fill="#6fbf40" stroke="#2a8a2a" stroke-width=".8"/>
<rect x="1309" y="557" width="6" height="86" fill="#e6d6ff" stroke="#b0a0ff" stroke-width=".5"/>
<rect x="1315" y="574" width="7" height="49" fill="#bde0ff" stroke="#90c0f0" stroke-width=".5"/>
<rect class="gy" x="1328" y="598" width="13" height="22"/>
<rect x="1295" y="143" width="46" height="502" fill="none" stroke="#66cc88" stroke-width="1.2"/>
<rect class="br" x="1349" y="172" width="6" height="37"/>
</g>

<g id="col8">
<rect x="1513" y="164" width="14" height="292" fill="#ddf0c8" stroke="#7fd08f" stroke-width="1"/>
<rect class="tl" x="1513" y="186" width="6" height="88"/>
<rect x="1519" y="241" width="6" height="72" fill="#ffc000"/>
<rect x="1514" y="318" width="6" height="66" fill="#e6ecd0" stroke="#777777" stroke-width=".6"/>
<rect class="wh" x="1520" y="394" width="5" height="20" stroke="#777777" stroke-width=".4"/>
<rect class="ol" x="1519" y="414" width="6" height="42"/>
<rect class="br" x="1526" y="257" width="7" height="17"/><rect class="wh" x="1527" y="274" width="5" height="37"/><rect class="br" x="1526" y="311" width="7" height="19"/>
<rect class="tl" x="1533" y="188" width="6" height="100"/>
<rect class="lg" x="1539" y="171" width="6" height="46"/>
<rect class="lg" x="1539" y="343" width="6" height="81"/>
<rect class="gr" x="1545" y="64" width="7" height="135"/>
<rect class="gr" x="1545" y="423" width="7" height="98"/>
</g>

<g id="bottom">
<rect x="117" y="899" width="1600" height="166" fill="#b5e8b8"/>
<rect x="117" y="935" width="1600" height="35" fill="#7f7f7f"/>
<rect x="117" y="1065" width="1600" height="73" fill="#fccafc"/>
<text class="bt" x="989" y="953">Christmas</text>
<text class="bt" x="917" y="1022">Beam Commissioning</text>
<text class="bt" x="917" y="1104">Physics</text>
</g>

<g id="note">
<rect x="1152" y="825" width="531" height="251" fill="#fbe5d6"/>
<text class="note" x="1172" y="877" textLength="377" lengthAdjust="spacingAndGlyphs">Quadrupole bypass</text>
<text class="note" x="1172" y="935" textLength="472" lengthAdjust="spacingAndGlyphs">dipole replacement may</text>
<text class="note" x="1172" y="993" textLength="300" lengthAdjust="spacingAndGlyphs">add 1 month to</text>
<text class="note" x="1172" y="1050" textLength="192" lengthAdjust="spacingAndGlyphs">shutdown</text>
</g>

<rect x="8" y="6" width="1817" height="1140" fill="none" stroke="#000000" stroke-width="2.5"/>
</svg>
